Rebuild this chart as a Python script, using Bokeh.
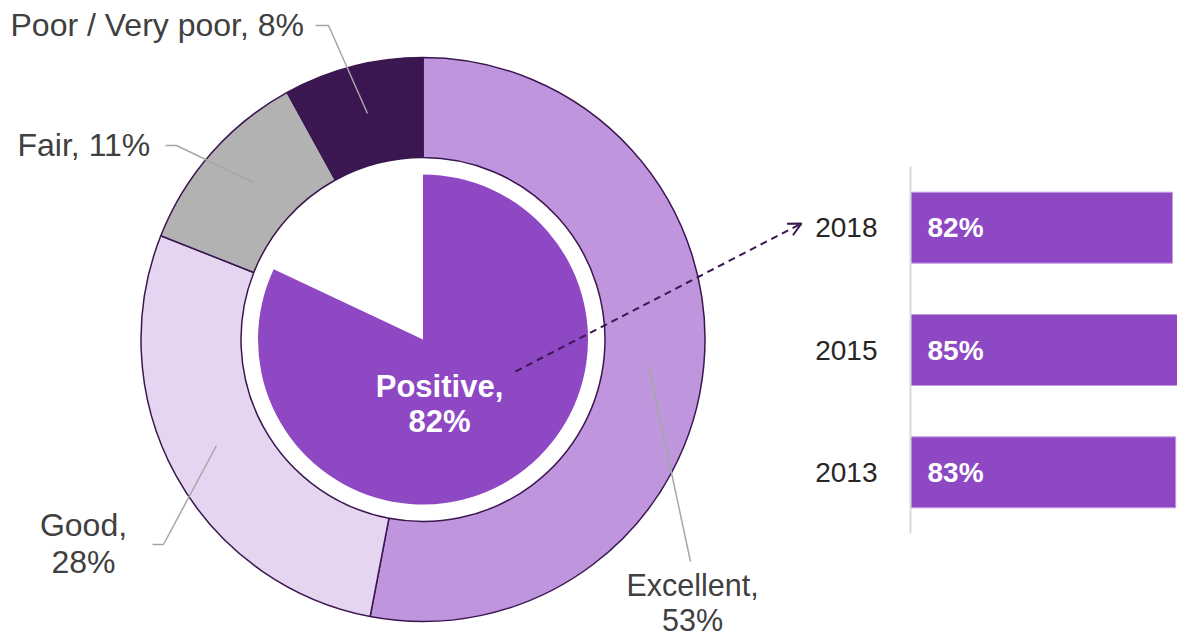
import numpy as np
from bokeh.plotting import figure
from bokeh.layouts import row
from bokeh.models import Range1d, FactorRange, ColumnDataSource, Arrow, OpenHead
from bokeh.core.properties import value
from bokeh.embed import file_html
from bokeh.resources import INLINE

# ---- data ----
ratings = ["Excellent", "Good", "Fair", "Poor / Very poor"]
rating_pct = [53, 28, 11, 8]
ring_colors = ["#BF95DE", "#E6D5F1", "#B2B2B2", "#3A1750"]
positive_label = "Positive"
positive_pct = 82
years = ["2018", "2015", "2013"]
year_pct = [82, 85, 83]

FONT = "Liberation Sans"
PURPLE = "#8E48C4"
DARK = "#3B1650"
LABEL_C = "#404040"

H = 638
W1 = 805
W2 = 1177 - W1
def Y(img_y):
    return H - img_y

# ---- donut figure ----
p1 = figure(width=W1, height=H, output_backend="svg", toolbar_location=None,
            x_range=Range1d(0, W1), y_range=Range1d(0, H), min_border=0)
p1.axis.visible = False
p1.grid.visible = False
p1.outline_line_color = None
p1.frame_align = False

cx, cy = 422.5, Y(339)
R_OUT, R_IN, R_PIE = 282, 182, 165

frac = np.array(rating_pct, dtype=float) / sum(rating_pct)
cum = np.concatenate([[0], np.cumsum(frac)])
start = np.pi / 2 - 2 * np.pi * cum[:-1]
end = np.pi / 2 - 2 * np.pi * cum[1:]
ring_src = ColumnDataSource(dict(start=start, end=end, color=ring_colors, name=ratings))
p1.annular_wedge(x=cx, y=cy, inner_radius=R_IN, outer_radius=R_OUT,
                 start_angle="start", end_angle="end", direction="clock",
                 fill_color="color", line_color=DARK, line_width=1.5, source=ring_src)

pos_end = np.pi / 2 - 2 * np.pi * positive_pct / 100
p1.wedge(x=cx, y=cy, radius=R_PIE, start_angle=np.pi / 2, end_angle=pos_end,
         direction="clock", fill_color=PURPLE, line_color=None)

# leader lines
leaders = [
    ([690, 648], [561, 365]),
    ([152, 163, 216], [544, 544, 445]),
    ([165, 176, 253], [145, 145, 182]),
    ([315, 328, 367], [25, 25, 113]),
]
for xs, ys in leaders:
    p1.line(xs, [Y(v) for v in ys], line_color="#A6A6A6", line_width=1.5)

def txt(fig, x, y, s, align="left", size=32, color=LABEL_C, bold=False):
    # y is the desired visual baseline (image px); compensate renderer offset
    fig.text(x=[x], y=[Y(y - 0.38 * size)], text=[s], text_font=value(FONT),
             text_font_size=f"{size}px", text_color=color, text_align=align,
             text_baseline="alphabetic", text_font_style="bold" if bold else "normal")

# slice labels
txt(p1, 692, 596, f"{ratings[0]},", align="center", size=30.5)
txt(p1, 692, 631, f"{rating_pct[0]}%", align="center", size=30.5)
txt(p1, 83, 537, f"{ratings[1]},", align="center")
txt(p1, 83, 574, f"{rating_pct[1]}%", align="center")
txt(p1, 17, 157, f"{ratings[2]}, {rating_pct[2]}%")
txt(p1, 10, 37, f"{ratings[3]}, {rating_pct[3]}%")

# center label
txt(p1, 439, 398, f"{positive_label},", align="center", size=31, color="white", bold=True)
txt(p1, 439, 433, f"{positive_pct}%", align="center", size=31, color="white", bold=True)

# dashed arrow
p1.add_layout(Arrow(x_start=515, y_start=Y(371), x_end=801, y_end=Y(223),
                    line_color=DARK, line_width=2, line_dash="7 5",
                    end=OpenHead(size=13, line_color=DARK, line_width=2)))

# ---- bar figure ----
p2 = figure(width=W2, height=H, output_backend="svg", toolbar_location=None,
            x_range=Range1d(0, 267 / 3.195),
            y_range=FactorRange(factors=years[::-1], range_padding=0),
            min_border_left=105, min_border_right=0, min_border_top=166, min_border_bottom=105)
p2.frame_align = False
p2.xaxis.visible = False
p2.grid.visible = False
p2.outline_line_color = None
p2.yaxis.axis_line_color = "#D9D9D9"
p2.yaxis.axis_line_width = 2
p2.yaxis.major_tick_line_color = None
p2.yaxis.minor_tick_line_color = None
p2.yaxis.major_label_text_font = FONT
p2.yaxis.major_label_text_font_size = "28px"
p2.yaxis.major_label_text_color = "#262626"
p2.yaxis.major_label_standoff = 27

bar_src = ColumnDataSource(dict(y=years, v=year_pct, lab=[f"{v}%" for v in year_pct]))
p2.hbar(y="y", left=0, right="v", height=0.58, fill_color=PURPLE,
        line_color="#C39BE3", line_width=1, source=bar_src)
p2.text(x=0, y="y", text="lab", x_offset=17, source=bar_src,
        text_font=value(FONT), text_font_size="28px", text_font_style="bold",
        text_color="white", text_align="left", text_baseline="middle")

layout = row(p1, p2, spacing=0)
open("out.html", "w").write(file_html(layout, INLINE))
